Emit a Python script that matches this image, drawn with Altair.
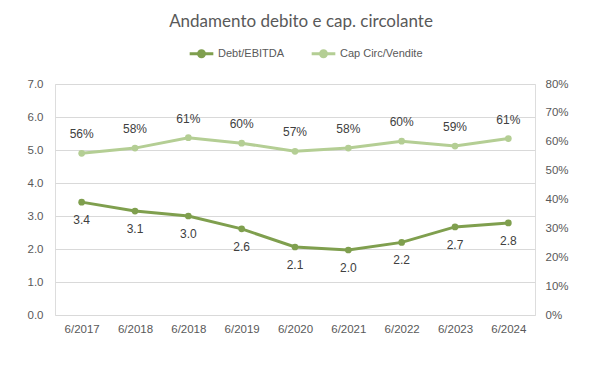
import altair as alt
import pandas as pd

labels = ["6/2017", "6/2018", "6/2018", "6/2019", "6/2020", "6/2021", "6/2022", "6/2023", "6/2024"]
debt = [3.42, 3.15, 3.00, 2.61, 2.06, 1.97, 2.20, 2.67, 2.79]
debt_lbl = ["3.4", "3.1", "3.0", "2.6", "2.1", "2.0", "2.2", "2.7", "2.8"]
capc = [0.56, 0.578, 0.614, 0.595, 0.567, 0.578, 0.602, 0.585, 0.611]
capc_lbl = ["56%", "58%", "61%", "60%", "57%", "58%", "60%", "59%", "61%"]

DARK = "#7F9F4E"
LIGHT = "#B4CE94"
FONT = "Liberation Sans"
AX = dict(labelFont=FONT, labelFontSize=11.5, labelColor="#595959", domain=False, ticks=False)

rows = []
for i in range(len(labels)):
    rows.append({"idx": i, "serie": "Debt/EBITDA", "v": debt[i], "t": debt_lbl[i]})
for i in range(len(labels)):
    rows.append({"idx": i, "serie": "Cap Circ/Vendite", "v": capc[i], "t": capc_lbl[i]})
df = pd.DataFrame(rows)

label_expr = "[" + ",".join("'" + l + "'" for l in labels) + "][datum.value]"

x = alt.X("idx:O", title=None, sort=None,
          scale=alt.Scale(paddingInner=1, paddingOuter=0.5),
          axis=alt.Axis(labelExpr=label_expr, labelAngle=0, labelPadding=8, grid=False, **AX))

color = alt.Color("serie:N", title=None,
                  scale=alt.Scale(domain=["Debt/EBITDA", "Cap Circ/Vendite"], range=[DARK, LIGHT]),
                  legend=alt.Legend(orient="none", direction="horizontal", legendX=133, legendY=-44,
                                    symbolType="M-1,0L1,0M-0.25,0a0.25,0.25 0 1,0 0.5,0a0.25,0.25 0 1,0 -0.5,0",
                                    symbolSize=560, symbolStrokeWidth=3, symbolFillColor=None,
                                    labelFontSize=11, labelColor="#595959", labelFont=FONT,
                                    columnPadding=20, labelOffset=3))

yl = alt.Y("v:Q", title=None,
           scale=alt.Scale(domain=[0, 7], nice=False),
           axis=alt.Axis(values=[0, 1, 2, 3, 4, 5, 6, 7], format=".1f",
                         labelPadding=12, gridColor="#D9D9D9", gridWidth=1, **AX))
yr = alt.Y("v:Q", title=None,
           scale=alt.Scale(domain=[0, 0.8], nice=False),
           axis=alt.Axis(orient="right", values=[0, .1, .2, .3, .4, .5, .6, .7, .8], format=".0%",
                         grid=False, labelPadding=10, **AX))

d_src = alt.Chart(df).transform_filter("datum.serie == 'Debt/EBITDA'")
c_src = alt.Chart(df).transform_filter("datum.serie == 'Cap Circ/Vendite'")

d_line = d_src.mark_line(strokeWidth=3, point=alt.OverlayMarkDef(size=45, filled=True, color=DARK)).encode(
    x=x, y=yl, color=color)
d_text = d_src.mark_text(dy=18, fontSize=12, font=FONT, color="#404040").encode(x=x, y=yl, text="t:N")

c_line = c_src.mark_line(strokeWidth=3, point=alt.OverlayMarkDef(size=45, filled=True, color=LIGHT)).encode(
    x=x, y=yr, color=color)
c_text = c_src.mark_text(dy=-19, fontSize=12, font=FONT, color="#404040").encode(x=x, y=yr, text="t:N")

chart = alt.layer(alt.layer(d_line, d_text), alt.layer(c_line, c_text)).resolve_scale(
    y="independent", color="shared"
).properties(
    width=480, height=231,
    autosize=alt.AutoSizeParams(type="none"),
    padding={"left": 47, "top": 76, "right": 50, "bottom": 40},
    title=alt.TitleParams("Andamento debito e cap. circolante", fontSize=17, font="Lato",
                          fontWeight="normal", color="#595959", anchor="middle", offset=9, dx=6),
).configure_view(stroke=None).configure(background="white")

chart.save("out.html", embed_options={"renderer": "svg", "actions": False})
